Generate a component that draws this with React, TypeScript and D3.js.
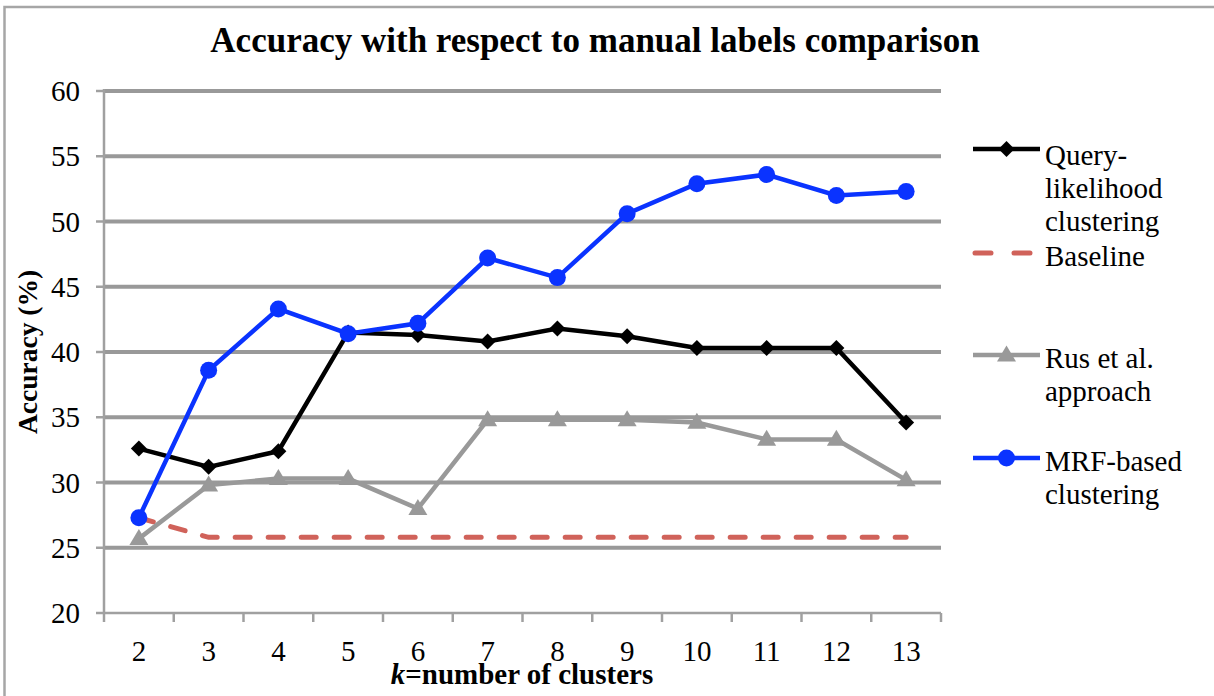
import React from "react";
import * as d3 from "d3";

const categories = ["2", "3", "4", "5", "6", "7", "8", "9", "10", "11", "12", "13"];
const queryLikelihood = [32.6, 31.2, 32.4, 41.5, 41.3, 40.8, 41.8, 41.2, 40.3, 40.3, 40.3, 34.6];
const baseline = [27.3, 25.8, 25.8, 25.8, 25.8, 25.8, 25.8, 25.8, 25.8, 25.8, 25.8, 25.8];
const rusApproach = [25.7, 29.8, 30.3, 30.3, 28.0, 34.8, 34.8, 34.8, 34.6, 33.3, 33.3, 30.2];
const mrfBased = [27.3, 38.6, 43.3, 41.4, 42.2, 47.2, 45.7, 50.6, 52.9, 53.6, 52.0, 52.3];
const yTicks = [20, 25, 30, 35, 40, 45, 50, 55, 60];

const FONT = "'Liberation Serif', 'Times New Roman', serif";

export default function App() {
  const W = 1214;
  const H = 696;
  const left = 104, right = 941, top = 91, bottom = 613;
  const x = d3.scalePoint<string>().domain(categories).range([left, right]).padding(0.5);
  const step = x.step();
  const y = d3.scaleLinear().domain([20, 60]).range([bottom, top]);

  const line = d3
    .line<number>()
    .x((_, i) => x(categories[i]) as number)
    .y((d) => y(d));

  const diamond = (cx: number, cy: number, r: number) =>
    `M${cx},${cy - r}L${cx + r},${cy}L${cx},${cy + r}L${cx - r},${cy}Z`;
  const triangle = (cx: number, cy: number, w: number, h: number) =>
    `M${cx},${cy - h * 0.6}L${cx + w / 2},${cy + h * 0.4}L${cx - w / 2},${cy + h * 0.4}Z`;

  const blue = "#0a33ff";
  const red = "#d0625a";
  const gray = "#999999";
  const gridColor = "#999999";

  const legX0 = 973, legX1 = 1040, legTx = 1045;
  const legends = [
    { key: "q", lineY: 149, lines: ["Query-", "likelihood", "clustering"], base: 165 },
    { key: "b", lineY: 253, lines: ["Baseline"], base: 266 },
    { key: "r", lineY: 355, lines: ["Rus et al.", "approach"], base: 368 },
    { key: "m", lineY: 458, lines: ["MRF-based", "clustering"], base: 471 },
  ];
  const lh = 32.8;

  return (
    <svg
      width={W}
      height={H}
      style={{ position: "absolute", left: 0, top: 0, background: "#fff" }}
      fontFamily={FONT}
    >
      <rect x={0} y={0} width={W} height={H} fill="#fff" />
      <rect x={4.5} y={7} width={1400} height={900} fill="none" stroke="#a6a6a6" strokeWidth={2.5} />

      <text x={595} y={52} textAnchor="middle" fontSize={35} fontWeight="bold" fill="#000">
        Accuracy with respect to manual labels comparison
      </text>

      {/* gridlines */}
      {yTicks.filter((t) => t !== 20).map((t) => (
        <line key={"g" + t} x1={left} x2={right} y1={y(t)} y2={y(t)} stroke={gridColor} strokeWidth={4} />
      ))}
      {/* axes */}
      <line x1={left} x2={left} y1={top - 2} y2={bottom} stroke="#a0a0a0" strokeWidth={2.5} />
      <line x1={left} x2={right} y1={bottom} y2={bottom} stroke="#a0a0a0" strokeWidth={2.5} />
      {yTicks.map((t) => (
        <g key={"yt" + t}>
          <line x1={96} x2={left} y1={y(t)} y2={y(t)} stroke="#a0a0a0" strokeWidth={2.5} />
          <text x={80} y={y(t) + 10} textAnchor="end" fontSize={29} fill="#000">
            {t}
          </text>
        </g>
      ))}
      {d3.range(categories.length + 1).map((i) => (
        <line
          key={"xt" + i}
          x1={left + i * step}
          x2={left + i * step}
          y1={bottom}
          y2={bottom + 9}
          stroke="#a0a0a0"
          strokeWidth={2.5}
        />
      ))}
      {categories.map((c) => (
        <text key={"xl" + c} x={x(c)} y={661} textAnchor="middle" fontSize={29} fill="#000">
          {c}
        </text>
      ))}

      <text x={522} y={684} textAnchor="middle" fontSize={29} fontWeight="bold" fill="#000">
        <tspan fontStyle="italic">k</tspan>=number of clusters
      </text>
      <text
        transform={`translate(37,352) rotate(-90)`}
        textAnchor="middle"
        fontSize={27.5}
        fontWeight="bold"
        fill="#000"
      >
        Accuracy (%)
      </text>

      {/* series */}
      <path d={line(baseline) || ""} fill="none" stroke={red} strokeWidth={5} strokeDasharray="15 18" strokeLinecap="round" />
      <path d={line(rusApproach) || ""} fill="none" stroke={gray} strokeWidth={4.5} />
      {rusApproach.map((v, i) => (
        <path key={"rt" + i} d={triangle(x(categories[i]) as number, y(v), 19, 16)} fill={gray} />
      ))}
      <path d={line(queryLikelihood) || ""} fill="none" stroke="#000" strokeWidth={4.5} />
      {queryLikelihood.map((v, i) => (
        <path key={"qd" + i} d={diamond(x(categories[i]) as number, y(v), 8)} fill="#000" />
      ))}
      <path d={line(mrfBased) || ""} fill="none" stroke={blue} strokeWidth={4.5} />
      {mrfBased.map((v, i) => (
        <circle key={"mc" + i} cx={x(categories[i]) as number} cy={y(v)} r={8.5} fill={blue} />
      ))}

      {/* legend */}
      {legends.map((lg) => (
        <g key={lg.key}>
          {lg.key === "q" && (
            <>
              <line x1={legX0} x2={legX1} y1={lg.lineY} y2={lg.lineY} stroke="#000" strokeWidth={4.5} />
              <path d={diamond((legX0 + legX1) / 2, lg.lineY, 8)} fill="#000" />
            </>
          )}
          {lg.key === "b" && (
            <line
              x1={legX0 + 2}
              x2={legX1}
              y1={lg.lineY}
              y2={lg.lineY}
              stroke={red}
              strokeWidth={5}
              strokeDasharray="16 23"
              strokeLinecap="round"
            />
          )}
          {lg.key === "r" && (
            <>
              <line x1={legX0} x2={legX1} y1={lg.lineY} y2={lg.lineY} stroke={gray} strokeWidth={4.5} />
              <path d={triangle((legX0 + legX1) / 2, lg.lineY, 19, 16)} fill={gray} />
            </>
          )}
          {lg.key === "m" && (
            <>
              <line x1={legX0} x2={legX1} y1={lg.lineY} y2={lg.lineY} stroke={blue} strokeWidth={4.5} />
              <circle cx={(legX0 + legX1) / 2} cy={lg.lineY} r={8.5} fill={blue} />
            </>
          )}
          {lg.lines.map((t, j) => (
            <text key={j} x={legTx} y={lg.base + j * lh} fontSize={29} fill="#000">
              {t}
            </text>
          ))}
        </g>
      ))}
    </svg>
  );
}
